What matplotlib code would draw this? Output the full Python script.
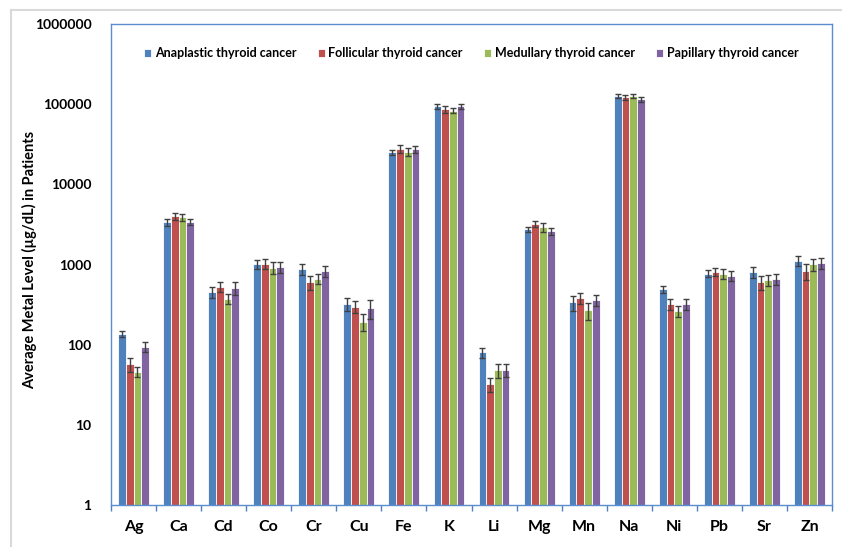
import numpy as np
import matplotlib
matplotlib.use("Agg")
import matplotlib.pyplot as plt
from matplotlib.lines import Line2D

plt.rcParams['font.family'] = ['Lato', 'DejaVu Sans']

# metals and mean levels (ug/dL) per cancer type
metals = ['Ag', 'Ca', 'Cd', 'Co', 'Cr', 'Cu', 'Fe', 'K', 'Li', 'Mg', 'Mn', 'Na', 'Ni', 'Pb', 'Sr', 'Zn']
groups = ['Anaplastic thyroid cancer', 'Follicular thyroid cancer',
          'Medullary thyroid cancer', 'Papillary thyroid cancer']

anaplastic = [135, 3360, 458, 1014, 879, 321, 25100, 94000, 80, 2770, 337, 126500, 495, 769, 806, 1116]
follicular = [57, 4000, 528, 1014, 600, 298, 27900, 86100, 32, 3230, 382, 121700, 324, 815, 600, 829]
medullary = [46, 3880, 375, 912, 659, 194, 25500, 82800, 48, 2910, 268, 126500, 265, 769, 646, 1005]
papillary = [94, 3420, 509, 920, 829, 284, 27300, 94000, 49, 2600, 364, 114900, 324, 719, 659, 1054]

anaplastic_err = [11, 300, 71, 124, 136, 60, 1700, 7500, 12, 190, 71, 7500, 50, 77, 133, 161]
follicular_err = [11, 450, 76, 146, 126, 53, 3400, 7700, 6, 290, 59, 9700, 50, 99, 113, 185]
medullary_err = [7, 430, 58, 150, 95, 45, 3100, 5600, 10, 355, 66, 8600, 41, 111, 100, 178]
papillary_err = [13, 300, 96, 143, 137, 77, 2700, 7500, 9, 285, 56, 7800, 50, 103, 109, 163]

values = [anaplastic, follicular, medullary, papillary]
errors = [anaplastic_err, follicular_err, medullary_err, papillary_err]
colors = ['#4F81BD', '#C0504D', '#9BBB59', '#8064A2']

fig = plt.figure(figsize=(8.42, 5.47), dpi=100)
ax = fig.add_axes([111 / 842, 1 - 505 / 547, 721 / 842, 481 / 547])

x = np.arange(len(metals))
w = 0.171
for i, (vals, errs, c, name) in enumerate(zip(values, errors, colors, groups)):
    ax.bar(x + (i - 1.5) * w, vals, width=w, color=c, edgecolor='white', linewidth=0.6,
           label=name, yerr=errs, error_kw=dict(ecolor='#404040', elinewidth=1.0, capsize=2.5, capthick=1.0))

ax.set_yscale('log')
ax.set_ylim(1, 1000000)
ax.set_xlim(-0.5, len(metals) - 0.5)
ax.set_yticks([1, 10, 100, 1000, 10000, 100000, 1000000])
ax.set_yticklabels(['1', '10', '100', '1000', '10000', '100000', '1000000'], fontsize=10, fontweight='bold')
ax.yaxis.set_minor_locator(matplotlib.ticker.NullLocator())
ax.tick_params(axis='y', length=0, pad=14)

ax.set_xticks(x)
ax.set_xticklabels(metals, fontsize=11.5, fontweight='bold')
ax.tick_params(axis='x', length=0, pad=11)
# category separator ticks on the x axis
ax.set_xticks(np.arange(-0.5, len(metals), 1.0), minor=True)
ax.tick_params(axis='x', which='minor', length=4, color='#4F81BD', width=1)

for s in ax.spines.values():
    s.set_color('#5B8ED0')
    s.set_linewidth(1.0)

ax.set_ylabel('Average Metal Level (µg/dL) in Patients', fontsize=10.5, fontweight='bold')
ax.yaxis.set_label_coords(-0.103, 0.51)

leg = ax.legend(loc='upper center', bbox_to_anchor=(0.5, 0.975), ncol=4, frameon=False,
                prop={'size': 9, 'weight': 'bold'}, handlelength=0.55, handleheight=0.55,
                handletextpad=0.3, columnspacing=1.7)

# light outer border of the chart area
fig.add_artist(Line2D([11 / 842, 11 / 842], [0, 1 - 10 / 547], color='#D9D9D9', lw=1.5))
fig.add_artist(Line2D([11 / 842, 1], [1 - 10 / 547, 1 - 10 / 547], color='#D9D9D9', lw=1.5))

fig.savefig('out.png', dpi=100)
